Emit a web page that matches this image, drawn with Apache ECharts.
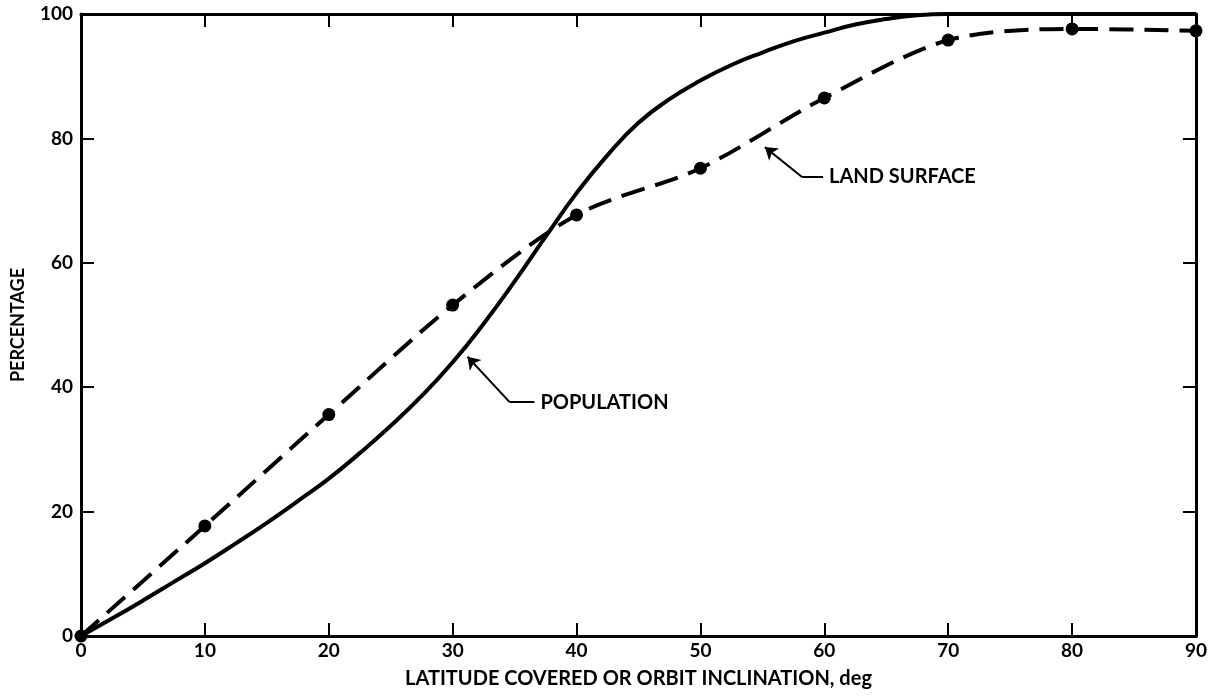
<!DOCTYPE html>
<html>
<head>
<meta charset="utf-8">
<script src="https://cdn.jsdelivr.net/npm/echarts@6/dist/echarts.min.js"></script>
<style>
html,body{margin:0;padding:0;background:#fff;}
#c{width:1210px;height:700px;}
</style>
</head>
<body>
<div id="c"></div>
<script>
// Data
const xTicks = [0, 10, 20, 30, 40, 50, 60, 70, 80, 90];
const yTicks = [0, 20, 40, 60, 80, 100];
const landX = [0, 10, 20, 30, 40, 50, 60, 70, 80, 90];
const landY = [0, 17.7, 35.6, 53.2, 67.7, 75.2, 86.5, 95.8, 97.6, 97.3];
const popX = [0, 2.5, 5, 7.5, 10, 12.5, 15, 17.5, 20, 22.5, 25, 27.5, 30, 32.5, 35, 37.5, 40, 42.5, 45, 47.5, 50, 52.5, 55, 57.5, 60, 62.5, 65, 67.5, 70, 80, 90];
const popY = [0, 2.8, 5.7, 8.7, 11.7, 14.9, 18.2, 21.7, 25.3, 29.4, 33.8, 38.6, 44, 50.2, 57, 64.2, 71.2, 77.3, 82.5, 86.3, 89.3, 91.8, 93.8, 95.6, 97, 98.3, 99.2, 99.8, 100, 100, 100];
const popLeader = [[34.6, 37.6], [31.2, 44.9], [36.6, 37.6]];   // elbow, arrow tip, end
const landLeader = [[58.2, 73.8], [55.2, 78.6], [59.9, 73.8]];
const labels = ['POPULATION', 'LAND SURFACE'];

const FONT = 'Lato';
const zip = (xs, ys) => xs.map((x, i) => [x, ys[i]]);

function leaderMarks(leader, text) {
  return {
    markLine: {
      silent: true,
      animation: false,
      lineStyle: { color: '#000', width: 2, type: 'solid' },
      label: { show: false },
      symbolSize: 12,
      data: [
        [{ coord: leader[0], symbol: 'none' }, { coord: leader[1], symbol: 'arrow' }],
        [{ coord: leader[0], symbol: 'none' }, { coord: leader[2], symbol: 'none' }]
      ]
    },
    markPoint: {
      silent: true,
      animation: false,
      symbol: 'circle',
      symbolSize: 0,
      data: [{ coord: leader[2], value: text }],
      label: {
        show: true, position: 'right', distance: 6,
        formatter: text, color: '#000', fontFamily: FONT, fontWeight: 'bold', fontSize: 20
      }
    }
  };
}

const chart = echarts.init(document.getElementById('c'));
const axisLine = { show: true, onZero: false, lineStyle: { color: '#000', width: 3 } };
const tick = { show: true, inside: true, length: 13, lineStyle: { color: '#000', width: 2 } };
chart.setOption({
  animation: false,
  backgroundColor: '#fff',
  grid: { left: 81, right: 13, top: 14, bottom: 64 },
  xAxis: [
    {
      type: 'value', min: 0, max: 90, interval: 10, position: 'bottom',
      axisLine, axisTick: tick, splitLine: { show: false },
      axisLabel: { color: '#000', fontFamily: FONT, fontWeight: 'bold', fontSize: 19, margin: 5,
        formatter: v => xTicks.includes(v) ? String(v) : '' },
      name: 'LATITUDE COVERED OR ORBIT INCLINATION, deg', nameLocation: 'middle', nameGap: 33,
      nameTextStyle: { color: '#000', fontFamily: FONT, fontWeight: 'bold', fontSize: 20 }
    },
    {
      type: 'value', min: 0, max: 90, interval: 10, position: 'top',
      axisLine, axisTick: tick, splitLine: { show: false }, axisLabel: { show: false }
    }
  ],
  yAxis: [
    {
      type: 'value', min: 0, max: 100, interval: 20, position: 'left',
      axisLine, axisTick: tick, splitLine: { show: false },
      axisLabel: { color: '#000', fontFamily: FONT, fontWeight: 'bold', fontSize: 19, margin: 8,
        formatter: v => yTicks.includes(v) ? String(v) : '' },
      name: 'PERCENTAGE', nameLocation: 'middle', nameGap: 54, nameRotate: 90,
      nameTextStyle: { color: '#000', fontFamily: FONT, fontWeight: 'bold', fontSize: 18 }
    },
    {
      type: 'value', min: 0, max: 100, interval: 20, position: 'right',
      axisLine, axisTick: tick, splitLine: { show: false }, axisLabel: { show: false }
    }
  ],
  series: [
    Object.assign({
      name: 'Population', type: 'line', smooth: 0.5, symbol: 'none',
      data: zip(popX, popY),
      lineStyle: { color: '#000', width: 4 }, z: 3
    }, leaderMarks(popLeader, labels[0])),
    Object.assign({
      name: 'Land surface', type: 'line', smooth: 0.3, symbol: 'circle', symbolSize: 13,
      data: zip(landX, landY),
      itemStyle: { color: '#000' },
      lineStyle: { color: '#000', width: 4, type: [24, 11] }, z: 4
    }, leaderMarks(landLeader, labels[1]))
  ]
});
</script>
</body>
</html>
